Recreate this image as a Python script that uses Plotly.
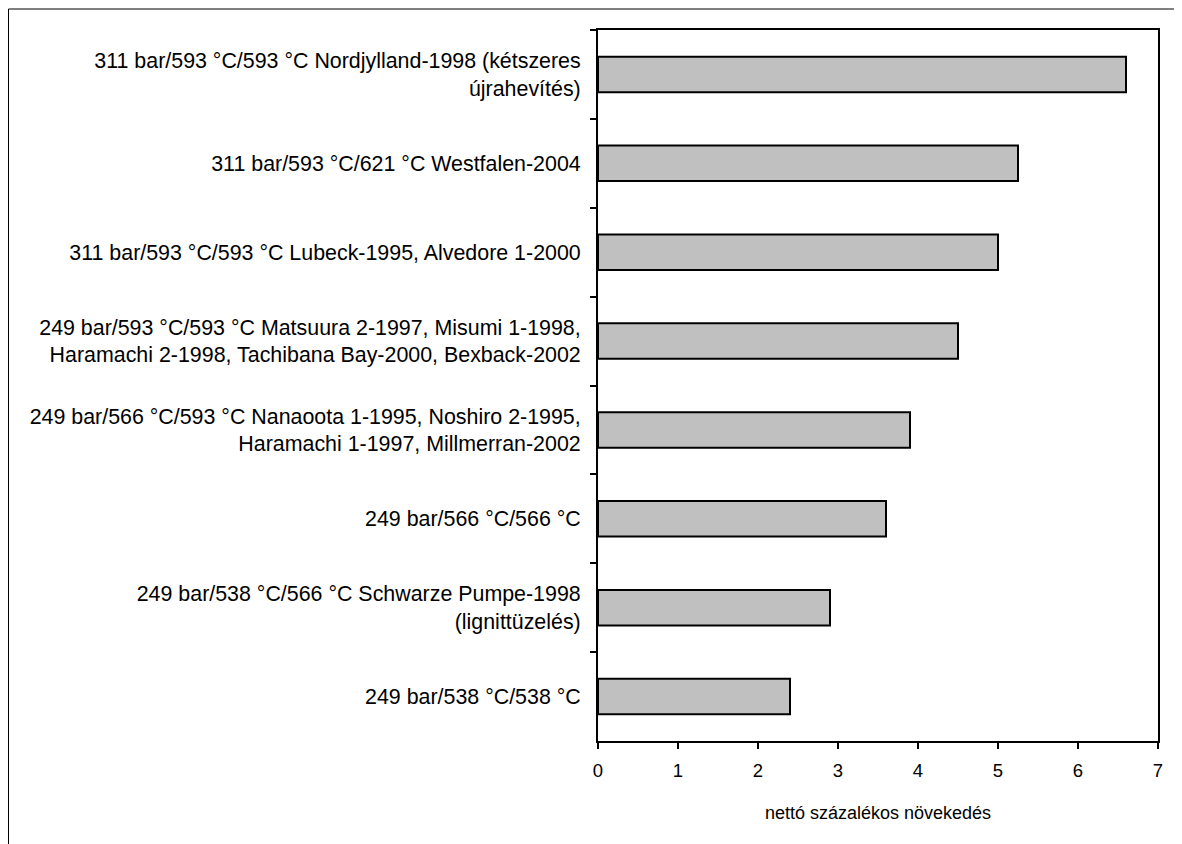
import plotly.graph_objects as go

categories = [
    "311 bar/593 °C/593 °C Nordjylland-1998 (kétszeres<br>újrahevítés)",
    "311 bar/593 °C/621 °C Westfalen-2004",
    "311 bar/593 °C/593 °C Lubeck-1995, Alvedore 1-2000",
    "249 bar/593 °C/593 °C Matsuura 2-1997, Misumi 1-1998,<br>Haramachi 2-1998, Tachibana Bay-2000, Bexback-2002",
    "249 bar/566 °C/593 °C Nanaoota 1-1995, Noshiro 2-1995,<br>Haramachi 1-1997, Millmerran-2002",
    "249 bar/566 °C/566 °C",
    "249 bar/538 °C/566 °C Schwarze Pumpe-1998<br>(lignittüzelés)",
    "249 bar/538 °C/538 °C",
]
values = [6.6, 5.25, 5.0, 4.5, 3.9, 3.6, 2.9, 2.4]
x_ticks = [0, 1, 2, 3, 4, 5, 6, 7]
x_title = "nettó százalékos növekedés"

FAM = "Liberation Sans, Arial, sans-serif"
ylab_font = dict(family=FAM, size=21.4, color="black")
xtick_font = dict(family=FAM, size=18.5, color="black")
xtitle_font = dict(family=FAM, size=18, color="black")

fig = go.Figure(go.Bar(
    x=values,
    y=categories,
    orientation="h",
    marker=dict(color="#c0c0c0", line=dict(color="black", width=2)),
    width=0.4,
))

L, T, PW, PH = 590, 22, 560, 711
W, H = 1182, 844

fig.update_layout(
    width=W,
    height=H,
    margin=dict(l=L, r=W - L - PW, t=T, b=H - T - PH),
    plot_bgcolor="white",
    paper_bgcolor="white",
    font=xtick_font,
    showlegend=False,
    xaxis=dict(
        range=[0, 7],
        tickvals=x_ticks,
        ticks="outside",
        ticklen=6,
        tickwidth=2,
        tickcolor="black",
        ticklabelstandoff=6,
        showline=True,
        linecolor="black",
        linewidth=2,
        mirror=True,
        showgrid=False,
        zeroline=False,
        title=dict(text=x_title, standoff=26, font=xtitle_font),
        tickfont=xtick_font,
    ),
    yaxis=dict(
        autorange="reversed",
        ticks="outside",
        tickson="boundaries",
        ticklen=6,
        tickwidth=2,
        tickcolor="black",
        ticklabelstandoff=11,
        showline=True,
        linecolor="black",
        linewidth=2,
        mirror=True,
        showgrid=False,
        tickfont=ylab_font,
    ),
    shapes=[
        dict(type="line", xref="paper", yref="paper",
             x0=(0.5 - L) / PW, x1=2.0, y0=1 + (T - 1) / PH, y1=1 + (T - 1) / PH,
             line=dict(color="black", width=1)),
        dict(type="line", xref="paper", yref="paper",
             x0=(0.5 - L) / PW, x1=(0.5 - L) / PW, y0=1 + (T - 1) / PH, y1=-1.0,
             line=dict(color="black", width=1)),
    ],
)

fig.write_html("out.html")
